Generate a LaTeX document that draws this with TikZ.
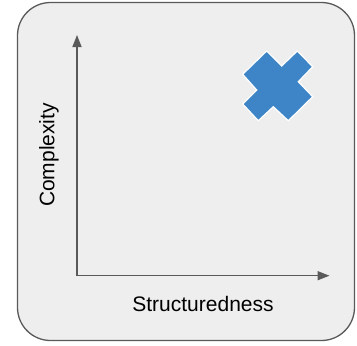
\documentclass[tikz,border=0pt]{standalone}
\usepackage{fontspec}
\setmainfont{Liberation Sans}
\usetikzlibrary{arrows.meta}
\definecolor{bgfill}{HTML}{EEEEEE}
\definecolor{edge}{HTML}{595959}
\definecolor{crossblue}{HTML}{3D85C6}
\begin{document}
\begin{tikzpicture}[x=1pt,y=-1pt,
  axis/.style={draw=edge,line width=1.5pt,-{Triangle[length=12pt,width=9pt]}},
  lbl/.style={font=\fontsize{21}{25}\selectfont,text=black,inner sep=0pt}]
\useasboundingbox (0,0) rectangle (357,346);
\draw[draw=edge,fill=bgfill,line width=1.3pt,rounded corners=33pt] (17.5,2.5) rectangle (354.5,340.5);
\coordinate (o) at (77,275.7);
\coordinate (ytip) at (77,35);
\coordinate (xtip) at (329.5,275.7);
\draw[axis] (o) -- (ytip);
\draw[axis] (o) -- (xtip);
\node[lbl,rotate=90] (ylab) at (49,155) {Complexity};
\node[lbl] (xlab) at (203,304) {Structuredness};
\draw[fill=crossblue,draw=white,line width=1.2pt,line join=miter]
  (266.7,51) -- (281.7,66) -- (297.3,51) -- (312.7,66.7) -- (298.3,81.7) -- (312.7,96.7)
  -- (288.3,120.7) -- (273.3,106.7) -- (258.3,120.7) -- (242.7,104) -- (256.7,90) -- (242.7,74.3) -- cycle;
\end{tikzpicture}
\end{document}
